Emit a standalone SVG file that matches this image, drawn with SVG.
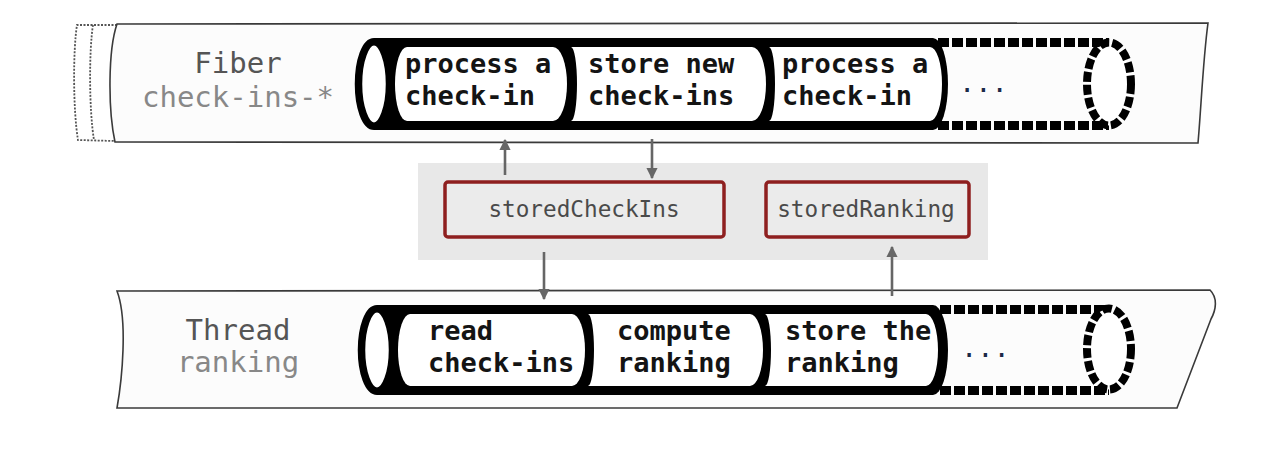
<svg xmlns="http://www.w3.org/2000/svg" width="1273" height="449" viewBox="0 0 1273 449">
<style>
.band{fill:#fcfcfc;stroke:#3a3a3a;stroke-width:1.6}
.ghost{fill:none;stroke:#555;stroke-width:1.8;stroke-dasharray:2 1.5}
.body{fill:#000}
.seg{fill:#fff}
.cap{fill:#fff;stroke:#000;stroke-width:7.5}
.dash{fill:none;stroke:#000;stroke-width:9;stroke-dasharray:11 3}
.dcap{fill:#fff;stroke:#000;stroke-width:8;stroke-dasharray:10 3}
.op{font-family:"DejaVu Sans Mono",monospace;font-weight:bold;font-size:27px;fill:#141414}
.dots{font-family:"DejaVu Sans Mono",monospace;font-size:27px;fill:#1b2a48}
.t1{font-family:"DejaVu Sans Mono",monospace;font-size:29px;fill:#555}
.t2{font-family:"DejaVu Sans Mono",monospace;font-size:29px;fill:#888}
.store{fill:#ebebeb;stroke:#8e1f1f;stroke-width:3.5}
.st{font-family:"DejaVu Sans Mono",monospace;font-size:22.7px;fill:#4a4a4a}
.conn{stroke:#666;stroke-width:2.6;fill:none}
</style>
<defs>
<marker id="ah" viewBox="0 0 10 10" refX="9" refY="5" markerWidth="4.4" markerHeight="4.4" orient="auto" markerUnits="strokeWidth">
<path d="M0,0 L10,5 L0,10 Z" fill="#666"/>
</marker>
</defs>
<rect width="1273" height="449" fill="#fff"/>

<g id="fiber">
<path class="ghost" d="M117,25 L77,25 C73,50 73,110 78,140 L115,141"/>
<path class="ghost" d="M93,25 C89,50 89,110 94,140"/>
<path class="band" d="M117,24 L1208,23 C1203,60 1201,110 1198,143 L115,142 C108,110 108,50 117,24 Z"/>
<text class="t1" x="238" y="73" text-anchor="middle">Fiber</text>
<text class="t2" x="238" y="107" text-anchor="middle">check-ins-*</text>
</g>

<g id="fiber-pipe">
<path class="dash" d="M938,42.5 L1109,42.5 M938,125.5 L1109,125.5"/>
<ellipse class="dcap" cx="1109" cy="84" rx="22" ry="41.5"/>
<path class="body" d="M374,38 L933,38 A15 46 0 0 1 933,130 L374,130 Z"/>
<path class="seg" d="M407,47 L553,47 A14 37 0 0 1 553,121 L407,121 A12 37 0 0 1 407,47 Z"/>
<path class="seg" d="M571,47 L752,47 A14 37 0 0 1 752,121 L571,121 A6 37 0 0 0 571,47 Z"/>
<path class="seg" d="M769,47 L930,47 A12 37 0 0 1 930,121 L769,121 A6 37 0 0 0 769,47 Z"/>
<ellipse class="cap" cx="374" cy="84" rx="15.5" ry="42.2"/>
<text class="op" x="405" y="73">process a</text>
<text class="op" x="405" y="105">check-in</text>
<text class="op" x="588" y="73">store new</text>
<text class="op" x="588" y="105">check-ins</text>
<text class="op" x="782" y="73">process a</text>
<text class="op" x="782" y="105">check-in</text>
<text class="dots" x="959" y="92">...</text>
</g>

<g id="shared">
<rect x="418" y="163" width="570" height="97" fill="#e8e8e8"/>
</g>
<g id="storedCheckIns">
<rect class="store" x="445" y="182" width="279" height="55" rx="3"/>
<text class="st" x="584" y="217" text-anchor="middle">storedCheckIns</text>
</g>
<g id="storedRanking">
<rect class="store" x="766" y="182" width="203" height="55" rx="3"/>
<text class="st" x="866" y="217" text-anchor="middle">storedRanking</text>
</g>

<g id="thread">
<path class="band" d="M117,291 L1210,290 C1218,298 1216,310 1211,319 L1177,408 L117,408 C122,380 128,320 117,291 Z"/>
<text class="t1" x="238" y="340" text-anchor="middle">Thread</text>
<text class="t2" x="238" y="372" text-anchor="middle">ranking</text>
</g>

<g id="thread-pipe">
<path class="dash" d="M940,309.5 L1109,309.5 M940,390.5 L1109,390.5"/>
<ellipse class="dcap" cx="1109" cy="349" rx="22" ry="40.5"/>
<path class="body" d="M377,305 L933,305 A15 45 0 0 1 933,395 L377,395 Z"/>
<path class="seg" d="M410,314 L572,314 A13 36 0 0 1 572,386 L410,386 A12 36 0 0 1 410,314 Z"/>
<path class="seg" d="M588,314 L750,314 A13 36 0 0 1 750,386 L588,386 A6 36 0 0 0 588,314 Z"/>
<path class="seg" d="M765,314 L926,314 A12 36 0 0 1 926,386 L765,386 A6 36 0 0 0 765,314 Z"/>
<ellipse class="cap" cx="377" cy="350" rx="15.5" ry="41.2"/>
<text class="op" x="428" y="340">read</text>
<text class="op" x="428" y="372">check-ins</text>
<text class="op" x="617" y="340">compute</text>
<text class="op" x="617" y="372">ranking</text>
<text class="op" x="785" y="340">store the</text>
<text class="op" x="785" y="372">ranking</text>
<text class="dots" x="961" y="357">...</text>
</g>

<g id="connectors">
<line class="conn" x1="505" y1="175" x2="505" y2="140" marker-end="url(#ah)"/>
<line class="conn" x1="652" y1="139" x2="652" y2="178" marker-end="url(#ah)"/>
<line class="conn" x1="544" y1="252" x2="544" y2="299" marker-end="url(#ah)"/>
<line class="conn" x1="892" y1="296" x2="892" y2="247" marker-end="url(#ah)"/>
</g>
</svg>
